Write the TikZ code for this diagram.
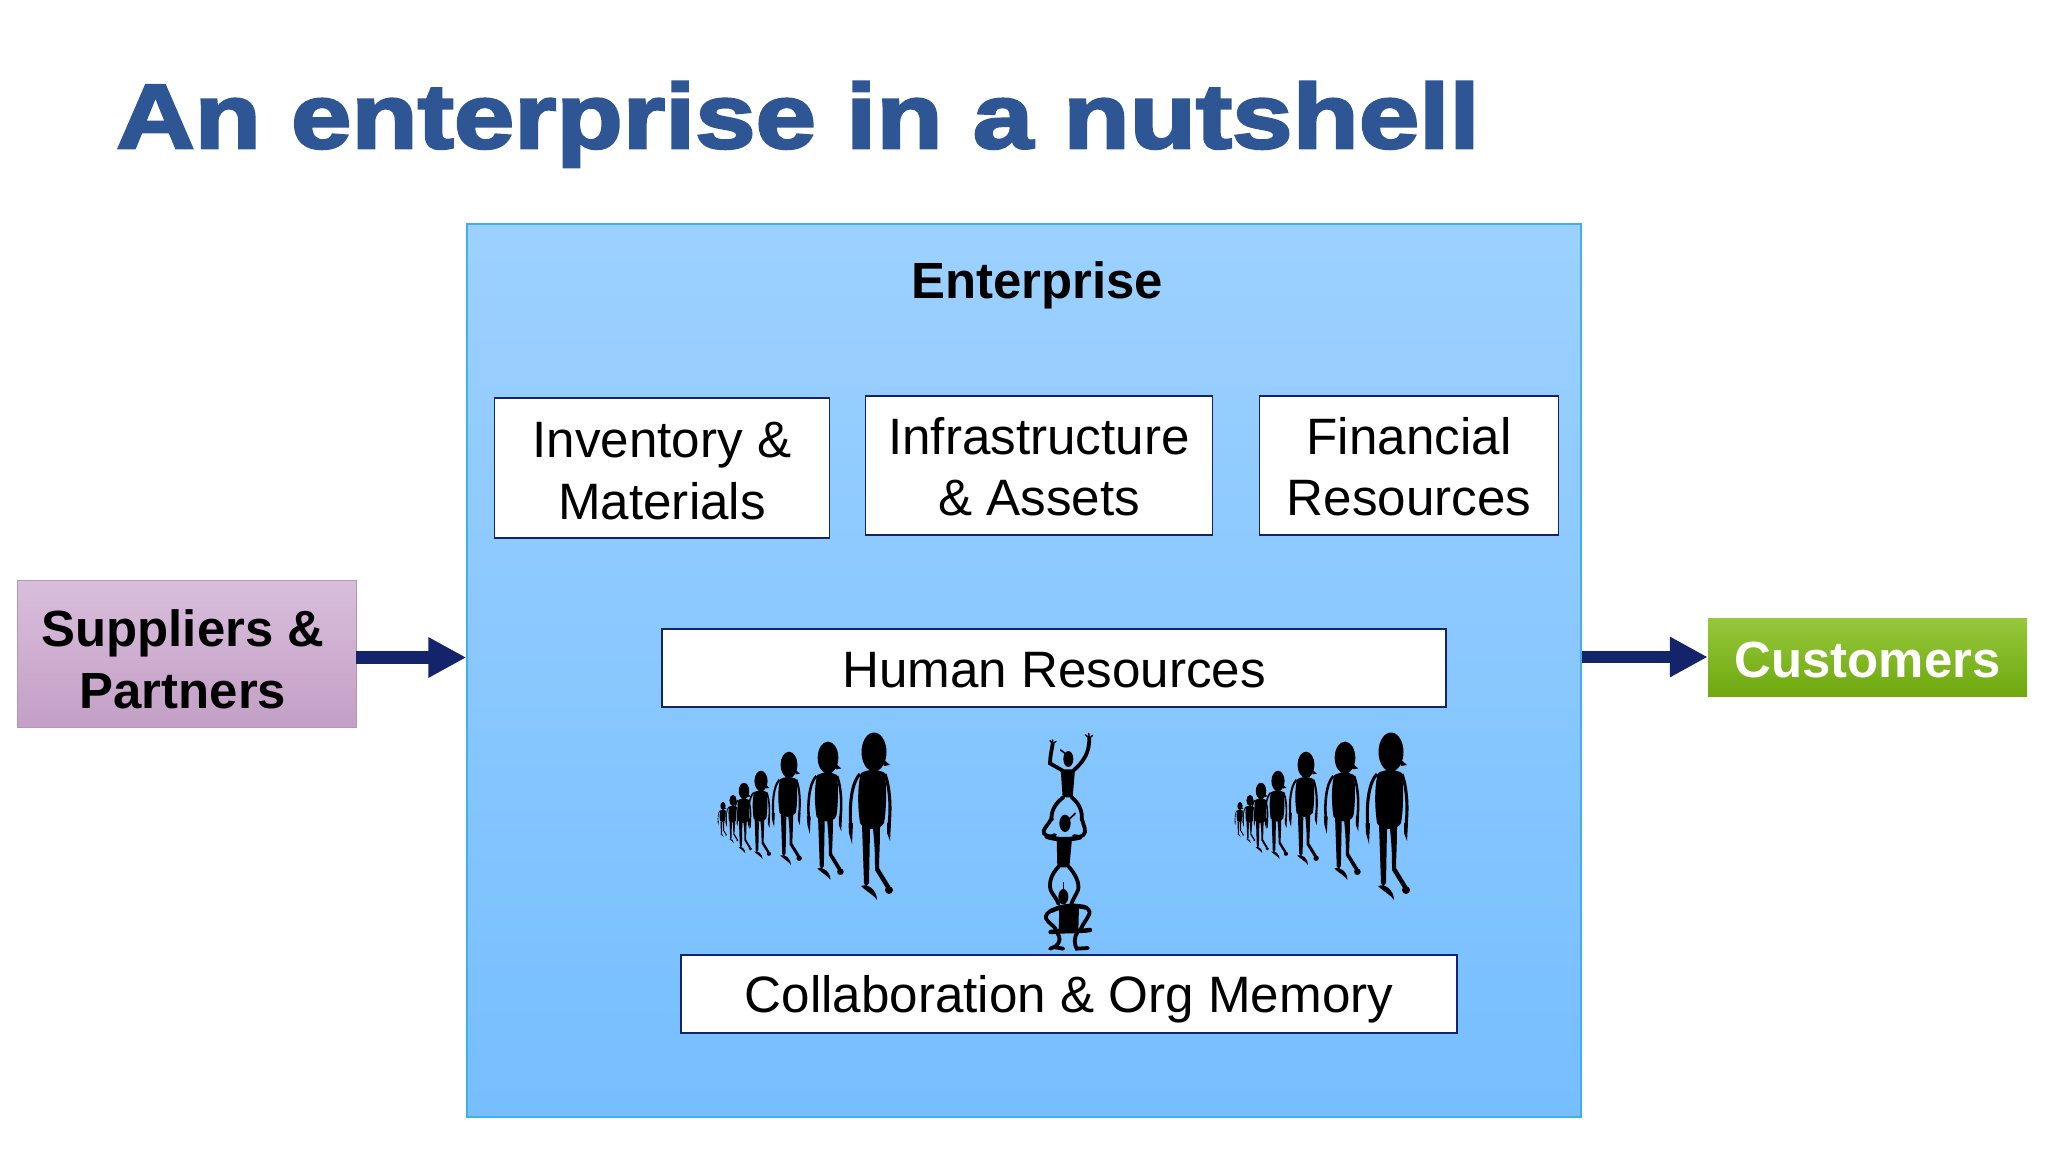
\documentclass[tikz,border=0pt]{standalone}
\usepackage{fontspec}
\setmainfont{Liberation Sans}
\newfontfamily\titlefont[FakeStretch=1.188,FakeBold=3]{Liberation Sans Bold}
\usetikzlibrary{arrows.meta}
\definecolor{titleblue}{HTML}{2E5694}
\definecolor{navy}{HTML}{14246B}
\definecolor{enttop}{HTML}{9CD1FF}
\definecolor{entbot}{HTML}{76BEFF}
\definecolor{entline}{HTML}{3FB1E8}
\definecolor{suptop}{HTML}{D9BEDC}
\definecolor{supbot}{HTML}{C39FC5}
\definecolor{supline}{HTML}{B596BA}
\definecolor{custop}{HTML}{96C83C}
\definecolor{cusbot}{HTML}{6EA80E}
\tikzset{
  big/.style={font=\fontsize{36.4}{44}\selectfont, align=center},
  bigbold/.style={font=\fontsize{36.2}{44}\selectfont\bfseries, align=center},
  whitebox/.style={big, draw=navy, line width=1.1pt, fill=white, inner sep=0pt},
  flow/.style={navy, line width=9pt, -{Triangle[length=27pt,width=27pt]}}
}
\begin{document}
\begin{tikzpicture}[x=0.25mm,y=-0.25mm]
\useasboundingbox (0,0) rectangle (2048,1152);
\node[anchor=base west, inner sep=0pt, text=titleblue, font=\fontsize{65}{70}\titlefont] (title) at (116,148) {An enterprise in a nutshell};
\node[draw=entline, line width=1pt, top color=enttop, bottom color=entbot, minimum width=1114*0.25mm, minimum height=893*0.25mm, inner sep=0pt] (enterprise) at (1024,670.5) {};
\node[bigbold] (entlabel) at (1037,285) {Enterprise};
\node[whitebox, text height=73pt, text depth=.2pt, minimum width=335*0.25mm, minimum height=140*0.25mm] (inventory) at (662,468) {Inventory \&\\Materials};
\node[whitebox, text height=72pt, text depth=.2pt, minimum width=347*0.25mm, minimum height=139*0.25mm] (infra) at (1039,465.5) {Infrastructure\\\& Assets};
\node[whitebox, text height=72pt, text depth=.2pt, minimum width=299*0.25mm, minimum height=139*0.25mm] (financial) at (1409,465.5) {Financial\\Resources};
\node[whitebox, text height=28pt, text depth=.2pt, minimum width=784*0.25mm, minimum height=78*0.25mm] (human) at (1054,668) {Human Resources};
\node[whitebox, text height=30pt, text depth=3.6pt, minimum width=776*0.25mm, minimum height=78*0.25mm] (collab) at (1069,994) {Collaboration \& Org Memory};
\node[bigbold, text height=77.6pt, text depth=.2pt, draw=supline, line width=.7pt, top color=suptop, bottom color=supbot, minimum width=339*0.25mm, minimum height=147*0.25mm, inner sep=0pt] (suppliers) at (186.5,654) {Suppliers \&\hspace*{5pt}\\Partners\hspace*{5pt}};
\node[bigbold, text height=29pt, text depth=.2pt, text=white, top color=custop, bottom color=cusbot, minimum width=319*0.25mm, minimum height=78*0.25mm, inner sep=0pt] (customers) at (1867.5,657) {Customers};
\coordinate (flowin) at (enterprise.west |- 0,657.5);
\draw[flow] (suppliers.east |- flowin) -- (flowin);
\draw[flow] (enterprise.east |- customers.west) -- (customers.west);
% the two queues of people
\foreach \gx in {0,517}
\foreach \px/\py/\h in {723/802/35,733/795/48,744/783/70,761/771/88,789/752/113,828/742/138,874/733/167}{
  \pgfmathsetmacro\s{\h/167}
  \begin{scope}[shift={(\px+\gx,\py)},scale=\s,line width=\s*2.2pt]
  \fill (0,19) ellipse [x radius=12.5,y radius=19.5];
  \fill (8,25)--(16,32)--(10,33)--cycle;
  \fill (-13,40) .. controls (-6,36) and (4,36) .. (11,40) .. controls (13,60) and (12,80) .. (10,90) .. controls (6,98) and (-10,98) .. (-14,90) .. controls (-17,70) and (-16,50) .. (-13,40)--cycle;
  \draw (-14,41) .. controls (-23,50) and (-25,75) .. (-23,95);
  \fill (-25.5,90)--(-21,90)--(-22,111)--(-25,100)--cycle;
  \draw (11,41) .. controls (16,55) and (17,75) .. (15,92);
  \fill (13,90)--(17,90)--(16,108)--(13,100)--cycle;
  \fill (-12,92)--(-4,96)--(-5,150)--(-8,154)--(-10,150)--cycle;
  \fill (-13,153) .. controls (-5,150) and (3,158) .. (3,167) .. controls (0,162) and (-7,159) .. (-13,153)--cycle;
  \fill (-1,96)--(6,92) .. controls (6,115) and (5,125) .. (5,135)--(16,153)--(12,155)--(1,137) .. controls (1,125) and (1,115) .. (-1,96)--cycle;
  \fill (15,157) ellipse [x radius=4,y radius=4];
  \end{scope}
}
% the stack of people
\begin{scope}[shift={(1000,720)},scale=1/3,line width=2.7pt,line cap=round]
\fill (205,117) ellipse [x radius=15,y radius=24];
\draw[line width=1.2pt] (182,90)--(200,104);
\fill (182,148)--(225,148)--(218,232)--(188,232)--cycle;
\draw (188,152)--(150,130) .. controls (150,110) and (155,90) .. (158,72);
\draw (220,152) .. controls (250,125) and (268,100) .. (268,55);
\draw[line width=1pt] (158,72)--(150,62) (158,72)--(158,60) (158,72)--(168,64);
\draw[line width=1pt] (268,55)--(256,44) (268,55)--(266,40) (268,55)--(278,46);
\draw (190,232) .. controls (165,250) and (152,275) .. (155,300);
\draw (215,232) .. controls (238,250) and (248,275) .. (245,300);
\draw (155,295) .. controls (145,315) and (125,330) .. (132,340) .. controls (140,350) and (155,352) .. (165,345);
\draw (245,295) .. controls (250,315) and (262,335) .. (250,345) .. controls (240,352) and (230,352) .. (222,348);
\fill (195,310) ellipse [x radius=17,y radius=26];
\draw[line width=1.2pt] (208,297)--(226,280);
\draw[line width=3.2pt] (140,350) .. controls (170,360) and (210,360) .. (240,352);
\fill (170,355)--(216,355)--(208,442)--(172,442)--cycle;
\draw (176,440) .. controls (155,460) and (145,490) .. (152,510) .. controls (158,525) and (170,535) .. (176,552);
\draw (206,440) .. controls (225,460) and (240,490) .. (234,510) .. controls (228,525) and (220,535) .. (214,552);
\fill (190,530) ellipse [x radius=15,y radius=23];
\draw[line width=1.2pt] (190,488)--(190,512);
\draw[line width=3.2pt] (155,572) .. controls (190,555) and (225,555) .. (255,562);
\fill (178,558)--(237,556)--(235,632)--(176,632)--cycle;
\draw (158,570) .. controls (145,575) and (135,585) .. (138,595) .. controls (145,610) and (160,615) .. (168,628);
\draw (250,560) .. controls (262,562) and (272,572) .. (268,582) .. controls (260,600) and (248,612) .. (242,628);
\draw[line width=3.2pt] (152,636) .. controls (190,632) and (235,635) .. (270,630);
\draw (170,636) .. controls (180,650) and (185,665) .. (165,680)--(150,686) (165,682)--(190,686);
\draw (232,636) .. controls (222,655) and (222,670) .. (230,686)--(264,684);
\end{scope}
\end{tikzpicture}
\end{document}
